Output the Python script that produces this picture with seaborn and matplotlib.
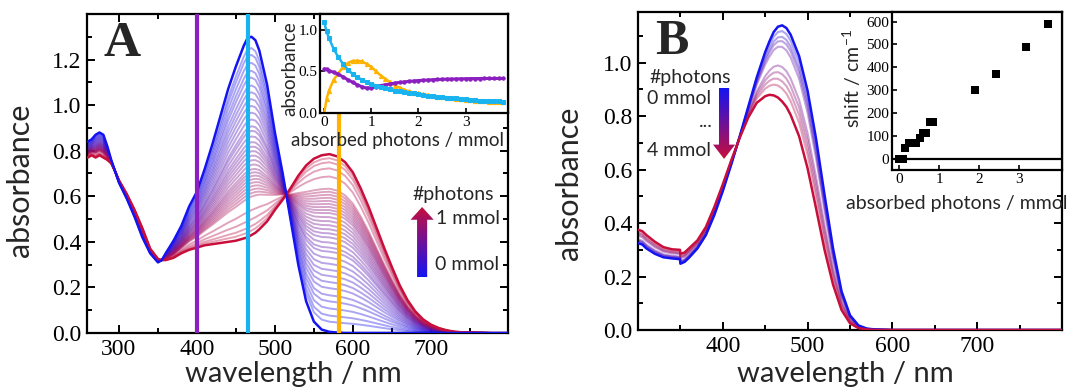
import numpy as np
import pandas as pd
import matplotlib
matplotlib.use("Agg")
import matplotlib.pyplot as plt
import seaborn as sns
from matplotlib.patches import FancyArrow
from matplotlib.colors import LinearSegmentedColormap
from matplotlib.ticker import MultipleLocator

# ---------------- data: panel A (spectra) ----------------
wl_A = [260, 265, 270, 275, 280, 285, 290, 295, 300, 310, 320, 330, 340, 350, 355, 360,
        370, 380, 390, 400, 410, 420, 430, 440, 450, 460, 465, 470, 475, 480, 490, 500,
        510, 520, 530, 540, 550, 560, 570, 580, 590, 600, 610, 620, 630, 640, 650, 660,
        670, 680, 690, 700, 710, 720, 730, 740, 760, 780, 800]
absA_start = [0.84, 0.85, 0.87, 0.88, 0.87, 0.82, 0.76, 0.71, 0.66, 0.59, 0.51, 0.42, 0.35, 0.31, 0.32, 0.35,
              0.405, 0.47, 0.555, 0.62, 0.72, 0.83, 0.95, 1.07, 1.17, 1.26, 1.295, 1.30, 1.285, 1.24, 1.09, 0.88,
              0.70, 0.50, 0.30, 0.14, 0.05, 0.015, 0.005, 0.002, 0.0, 0.0, 0.0, 0.0, 0.0, 0.0, 0.0, 0.0,
              0.0, 0.0, 0.0, 0.0, 0.0, 0.0, 0.0, 0.0, 0.0, 0.0, 0.0]
absA_end = [0.77, 0.78, 0.77, 0.78, 0.77, 0.76, 0.745, 0.71, 0.67, 0.61, 0.54, 0.46, 0.37, 0.325, 0.32, 0.32,
            0.33, 0.35, 0.365, 0.375, 0.385, 0.39, 0.395, 0.40, 0.405, 0.415, 0.42, 0.43, 0.44, 0.455, 0.49, 0.54,
            0.585, 0.635, 0.69, 0.735, 0.765, 0.78, 0.785, 0.775, 0.75, 0.705, 0.635, 0.555, 0.465, 0.375, 0.29, 0.21,
            0.145, 0.095, 0.06, 0.037, 0.022, 0.012, 0.006, 0.003, 0.001, 0.0, 0.0]
peak465_A = [1.30, 1.245, 1.215, 1.18, 1.145, 1.115, 1.08, 1.05, 1.02, 0.99, 0.96, 0.93, 0.90,
             0.88, 0.855, 0.83, 0.81, 0.79, 0.77, 0.75, 0.73, 0.71, 0.695, 0.68, 0.665, 0.65,
             0.635, 0.62, 0.605, 0.59, 0.53, 0.49, 0.46, 0.44, 0.42]
marker_wl = [400, 465, 582]

# inset A: kinetic traces
photons_A = [0.0, 0.05, 0.1, 0.2, 0.3, 0.4, 0.5, 0.6, 0.7, 0.8, 0.9, 1.0, 1.1, 1.2, 1.3, 1.4, 1.5,
             1.6, 1.7, 1.8, 1.9, 2.0, 2.1, 2.2, 2.3, 2.4, 2.5, 2.6, 2.7, 2.8, 2.9, 3.0, 3.1, 3.2,
             3.3, 3.4, 3.5, 3.6, 3.7, 3.8]
trace_465 = [1.09, 0.98, 0.90, 0.77, 0.67, 0.59, 0.52, 0.47, 0.43, 0.40, 0.37, 0.35, 0.33, 0.315,
             0.30, 0.285, 0.27, 0.26, 0.25, 0.24, 0.235, 0.225, 0.215, 0.21, 0.20, 0.195, 0.19,
             0.185, 0.18, 0.175, 0.17, 0.165, 0.16, 0.155, 0.15, 0.148, 0.145, 0.142, 0.14, 0.137]
trace_585 = [0.0, 0.17, 0.27, 0.40, 0.48, 0.55, 0.60, 0.625, 0.63, 0.62, 0.59, 0.555, 0.50, 0.45,
             0.41, 0.37, 0.33, 0.305, 0.28, 0.26, 0.245, 0.235, 0.225, 0.215, 0.205, 0.195, 0.188,
             0.182, 0.176, 0.17, 0.165, 0.16, 0.155, 0.15, 0.145, 0.14, 0.137, 0.133, 0.13, 0.127]
trace_400 = [0.53, 0.525, 0.51, 0.49, 0.465, 0.435, 0.40, 0.37, 0.34, 0.315, 0.30, 0.305, 0.315,
             0.33, 0.34, 0.35, 0.36, 0.367, 0.374, 0.38, 0.385, 0.39, 0.394, 0.397, 0.40, 0.403,
             0.405, 0.407, 0.408, 0.41, 0.411, 0.412, 0.413, 0.414, 0.414, 0.415, 0.415, 0.415,
             0.415, 0.415]

# ---------------- data: panel B (spectra) ----------------
wl_B = [300, 305, 310, 320, 330, 340, 349.5, 350, 355, 360, 370, 380, 390, 400, 410, 420, 430,
        440, 450, 455, 460, 465, 470, 475, 480, 490, 500, 510, 520, 530, 540, 550, 560, 570,
        580, 600, 650, 700, 750, 800]
absB_start = [0.325, 0.32, 0.305, 0.285, 0.272, 0.268, 0.265, 0.248, 0.255, 0.27, 0.305, 0.355,
              0.43, 0.52, 0.62, 0.725, 0.835, 0.945, 1.04, 1.08, 1.115, 1.135, 1.14, 1.13, 1.105,
              1.025, 0.895, 0.715, 0.505, 0.305, 0.145, 0.055, 0.017, 0.005, 0.002, 0.0, 0.0,
              0.0, 0.0, 0.0]
absB_end = [0.375, 0.37, 0.355, 0.33, 0.31, 0.302, 0.30, 0.285, 0.29, 0.305, 0.335, 0.385, 0.46,
            0.545, 0.635, 0.72, 0.795, 0.85, 0.875, 0.88, 0.878, 0.87, 0.855, 0.835, 0.805,
            0.725, 0.605, 0.455, 0.30, 0.17, 0.075, 0.025, 0.007, 0.002, 0.0, 0.0, 0.0, 0.0,
            0.0, 0.0]
peak465_B = [1.135, 1.115, 1.095, 1.08, 1.06, 0.99, 0.965, 0.94, 0.915, 0.87]

# inset B: band shift
photons_B = [0.0, 0.05, 0.09, 0.15, 0.25, 0.35, 0.43, 0.51, 0.59, 0.66, 0.76, 0.85, 1.89,
             2.42, 3.16, 3.71]
shift_B = [0, 0, 0, 45, 70, 70, 70, 90, 113, 113, 160, 160, 300, 372, 490, 590]

# ---------------- style ----------------
sns.set_theme(style="ticks")
plt.rcParams["font.family"] = ["Liberation Serif", "DejaVu Serif"]
plt.rcParams["mathtext.fontset"] = "custom"
plt.rcParams["mathtext.rm"] = "Lato"
plt.rcParams["mathtext.it"] = "Lato:italic"
SANS = ["Lato", "DejaVu Sans"]

BLUE = "#1414f2"
RED = "#c80f3c"
PURPLE = "#8c1fbf"
CYAN = "#19b4f0"
ORANGE = "#ffb300"
cmap = LinearSegmentedColormap.from_list("photons", [BLUE, RED])

fig = plt.figure(figsize=(10.74, 3.91), dpi=100)
W, H = 1074, 391
axA = fig.add_axes([87 / W, 58 / H, 421 / W, 319 / H])
axB = fig.add_axes([638 / W, 61 / H, 424 / W, 318 / H])


def style_main(ax):
    for s in ax.spines.values():
        s.set_linewidth(1.6)
        s.set_color("black")
    ax.tick_params(which="both", direction="in", top=True, right=True, width=1.4,
                   labelsize=17, colors="black", pad=4)
    ax.tick_params(which="major", length=6)
    ax.tick_params(which="minor", length=3.5)


def mixtures(start, end, peaks, ref_idx):
    s = np.array(start)
    e = np.array(end)
    out = []
    for p in peaks:
        f = (s[ref_idx] - p) / (s[ref_idx] - e[ref_idx])
        out.append(s + f * (e - s))
    return out


def gradient_arrow(ax, x, y_tail, y_tip, shaft_w, head_w, head_l, cm):
    arrow = FancyArrow(x, y_tail, 0, y_tip - y_tail, width=shaft_w, head_width=head_w,
                       head_length=head_l, length_includes_head=True,
                       transform=ax.transAxes, facecolor="none", edgecolor="none")
    ax.add_patch(arrow)
    grad = np.linspace(0, 1, 256).reshape(-1, 1)
    lo, hi = min(y_tail, y_tip), max(y_tail, y_tip)
    im = ax.imshow(grad, extent=[x - head_w, x + head_w, lo, hi], origin="lower",
                   transform=ax.transAxes, cmap=cm, aspect="auto", zorder=7)
    im.set_clip_path(arrow)


ANN = 14

# ---------------- panel A ----------------
specA = mixtures(absA_start, absA_end, peak465_A, wl_A.index(465))
nA = len(specA)
for i in range(1, nA - 1):
    sns.lineplot(x=wl_A, y=specA[i], ax=axA, color=cmap(i / (nA - 1)), alpha=0.38,
                 lw=1.4, estimator=None, sort=False)
sns.lineplot(x=wl_A, y=absA_end, ax=axA, color=RED, lw=1.8, estimator=None, sort=False, zorder=4)
sns.lineplot(x=wl_A, y=absA_start, ax=axA, color=BLUE, lw=1.8, estimator=None, sort=False, zorder=4)
for wl, c in zip(marker_wl, [PURPLE, CYAN, ORANGE]):
    axA.axvline(wl, color=c, lw=3, zorder=5)

gradient_arrow(axA, 0.796, 0.175, 0.395, 0.024, 0.055, 0.04, cmap)
axA.text(0.772, 0.433, "#photons", transform=axA.transAxes, fontfamily=SANS, fontsize=ANN,
         va="center", ha="left")
axA.text(0.83, 0.36, "1 mmol", transform=axA.transAxes, fontfamily=SANS, fontsize=ANN,
         va="center", ha="left")
axA.text(0.826, 0.215, "0 mmol", transform=axA.transAxes, fontfamily=SANS, fontsize=ANN,
         va="center", ha="left")
axA.text(0.04, 0.978, "A", transform=axA.transAxes, fontsize=37, fontweight="bold",
         va="top", ha="left")

axA.set_xlim(259, 799)
axA.set_ylim(0, 1.4)
axA.set_xticks([300, 400, 500, 600, 700])
axA.xaxis.set_minor_locator(MultipleLocator(50))
axA.set_yticks([0, 0.2, 0.4, 0.6, 0.8, 1.0, 1.2])
axA.set_yticklabels(["0.0", "0.2", "0.4", "0.6", "0.8", "1.0", "1.2"])
axA.yaxis.set_minor_locator(MultipleLocator(0.1))
style_main(axA)
axA.set_xlabel("wavelength / nm", fontfamily=SANS, fontsize=21)
axA.set_ylabel("absorbance", fontfamily=SANS, fontsize=22)
axA.xaxis.set_label_coords(0.49, -0.088)
axA.yaxis.set_label_coords(-0.125, 0.48)

# inset A
insA = fig.add_axes([320 / W, (H - 113) / H, 188 / W, 99 / H])
sns.lineplot(x=photons_A, y=trace_585, ax=insA, color=ORANGE, lw=1.8, marker="^", ms=3.0,
             mec=ORANGE, estimator=None, sort=False)
sns.lineplot(x=photons_A, y=trace_400, ax=insA, color=PURPLE, lw=2.2, marker="o", ms=2.4,
             mec=PURPLE, estimator=None, sort=False)
sns.lineplot(x=photons_A, y=trace_465, ax=insA, color=CYAN, lw=1.8, marker="s", ms=2.4,
             mec=CYAN, estimator=None, sort=False)
insA.set_xlim(-0.09, 3.9)
insA.set_ylim(0, 1.19)
insA.set_xticks([0, 1, 2, 3])
insA.set_yticks([0, 0.5, 1.0])
insA.set_yticklabels(["0.0", "0.5", "1.0"])
for s in insA.spines.values():
    s.set_linewidth(1.6)
    s.set_color("black")
insA.tick_params(direction="in", length=3.5, width=1.2, labelsize=11, pad=2, colors="black")
insA.set_xlabel("absorbed photons / mmol", fontfamily=SANS, fontsize=13.5)
insA.set_ylabel("absorbance", fontfamily=SANS, fontsize=13.5)
insA.xaxis.set_label_coords(0.41, -0.19)
insA.yaxis.set_label_coords(-0.115, 0.45)

# ---------------- panel B ----------------
specB = mixtures(absB_start, absB_end, peak465_B, wl_B.index(465))
nB = len(specB)
for i in range(1, nB - 1):
    sns.lineplot(x=wl_B, y=specB[i], ax=axB, color=cmap(i / (nB - 1)), alpha=0.38,
                 lw=1.5, estimator=None, sort=False)
sns.lineplot(x=wl_B, y=absB_start, ax=axB, color=BLUE, lw=1.8, estimator=None, sort=False, zorder=4)
sns.lineplot(x=wl_B, y=absB_end, ax=axB, color=RED, lw=1.8, estimator=None, sort=False, zorder=4)

gradient_arrow(axB, 0.203, 0.761, 0.538, 0.024, 0.052, 0.045, cmap.reversed())
axB.text(0.026, 0.795, "#photons", transform=axB.transAxes, fontfamily=SANS, fontsize=ANN,
         va="center", ha="left")
axB.text(0.022, 0.728, "0 mmol", transform=axB.transAxes, fontfamily=SANS, fontsize=ANN,
         va="center", ha="left")
axB.text(0.176, 0.655, "...", transform=axB.transAxes, fontfamily=SANS, fontsize=ANN,
         va="center", ha="right")
axB.text(0.022, 0.566, "4 mmol", transform=axB.transAxes, fontfamily=SANS, fontsize=ANN,
         va="center", ha="left")
axB.text(0.04, 0.978, "B", transform=axB.transAxes, fontsize=36, fontweight="bold",
         va="top", ha="left")

axB.set_xlim(300, 800)
axB.set_ylim(0, 1.19)
axB.set_xticks([400, 500, 600, 700])
axB.xaxis.set_minor_locator(MultipleLocator(50))
axB.set_yticks([0, 0.2, 0.4, 0.6, 0.8, 1.0])
axB.set_yticklabels(["0.0", "0.2", "0.4", "0.6", "0.8", "1.0"])
axB.yaxis.set_minor_locator(MultipleLocator(0.1))
style_main(axB)
axB.set_xlabel("wavelength / nm", fontfamily=SANS, fontsize=21)
axB.set_ylabel("absorbance", fontfamily=SANS, fontsize=22)
axB.xaxis.set_label_coords(0.49, -0.098)
axB.yaxis.set_label_coords(-0.13, 0.46)

# inset B
insB = fig.add_axes([892 / W, (H - 170) / H, 170 / W, 158 / H])
insB.axhline(0, color="black", lw=1.6, zorder=1)
sns.scatterplot(x=photons_B, y=shift_B, ax=insB, color="black", marker="s", s=28,
                edgecolor="black", linewidth=0, zorder=3)
insB.set_xlim(-0.18, 4.07)
insB.set_ylim(-50, 642)
insB.set_xticks([0, 1, 2, 3])
insB.set_yticks([0, 100, 200, 300, 400, 500, 600])
for s in insB.spines.values():
    s.set_linewidth(1.6)
    s.set_color("black")
insB.tick_params(direction="in", length=3.5, width=1.2, labelsize=11, pad=2, colors="black")
insB.set_xlabel("absorbed photons / mmol", fontfamily=SANS, fontsize=14)
insB.set_ylabel(r"shift / cm$^{-1}$", fontfamily=SANS, fontsize=14)
insB.xaxis.set_label_coords(0.38, -0.16)
insB.yaxis.set_label_coords(-0.17, 0.58)

fig.savefig("out.png", dpi=100)
